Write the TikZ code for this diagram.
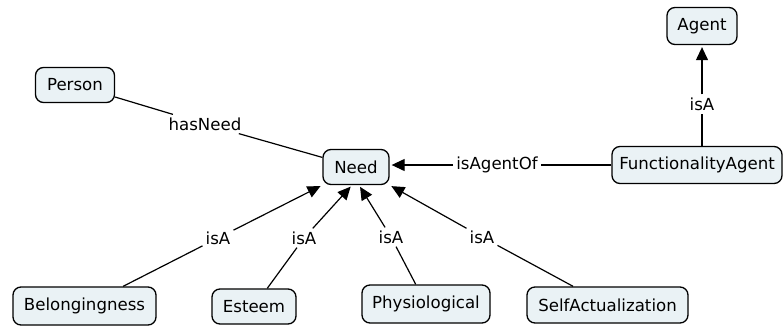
\documentclass[tikz,border=0pt]{standalone}
\usepackage{fontspec}
\setmainfont{DejaVu Sans}
\usetikzlibrary{arrows.meta}
\definecolor{conceptfill}{RGB}{234,242,245}
\begin{document}
\begin{tikzpicture}[x=1pt,y=-1pt,
  concept/.style={draw=black, line width=1.3pt, fill=conceptfill, rounded corners=8pt,
    inner sep=0pt, font=\fontsize{16.6}{19}\selectfont},
  linkword/.style={inner sep=3pt, font=\fontsize{16.6}{19}\selectfont},
  link/.style={draw=black, line width=1.2pt},
  arrowlink/.style={link, -{Triangle[length=13pt,width=12pt]}, shorten >=2pt}
]
\useasboundingbox (0,0) rectangle (784,327);

% concepts
\node[concept, minimum width=70pt,  minimum height=37pt] (agent)  at (702,26)    {Agent};
\node[concept, minimum width=79pt,  minimum height=35pt] (person) at (75,85)     {Person};
\node[concept, minimum width=66pt,  minimum height=35pt] (need)   at (356,167)   {Need};
\node[concept, minimum width=170pt, minimum height=37pt] (fa)     at (697,165)   {FunctionalityAgent};
\node[concept, minimum width=143pt, minimum height=38pt] (belong) at (84.5,306)  {Belongingness};
\node[concept, minimum width=84pt,  minimum height=35pt] (esteem) at (254,306.5) {Esteem};
\node[concept, minimum width=128pt, minimum height=38pt] (physio) at (426,304)   {Physiological};
\node[concept, minimum width=161pt, minimum height=36pt] (selfact) at (607.5,305) {SelfActualization};

% linking phrases
\node[linkword] (hasneed)   at (205,124) {hasNeed};
\node[linkword] (isagentof) at (497,165) {isAgentOf};
\node[linkword] (isa5)      at (702,104) {isA};
\node[linkword] (isa1)      at (218,238) {isA};
\node[linkword] (isa2)      at (304,238) {isA};
\node[linkword] (isa3)      at (391,237) {isA};
\node[linkword] (isa4)      at (482,237) {isA};

% connections
\draw[link] (person) -- (hasneed);
\draw[link] (hasneed) -- (need);

\draw[link] (fa.west |- isagentof) -- (isagentof);
\draw[arrowlink] (isagentof) -- (isagentof -| need.east);

\draw[link] (isa5 |- fa.north) -- (isa5);
\draw[arrowlink] (isa5) -- (agent);

\draw[link] (belong) -- (isa1);
\draw[arrowlink] (isa1) -- (need.south west);

\draw[link] (esteem) -- (isa2);
\draw[arrowlink] (isa2) -- ([xshift=-4pt]need.south);

\draw[link] (physio) -- (isa3);
\draw[arrowlink] (isa3) -- ([xshift=3pt]need.south);

\draw[link] (selfact) -- (isa4);
\draw[arrowlink] (isa4) -- (need.south east);
\end{tikzpicture}
\end{document}
